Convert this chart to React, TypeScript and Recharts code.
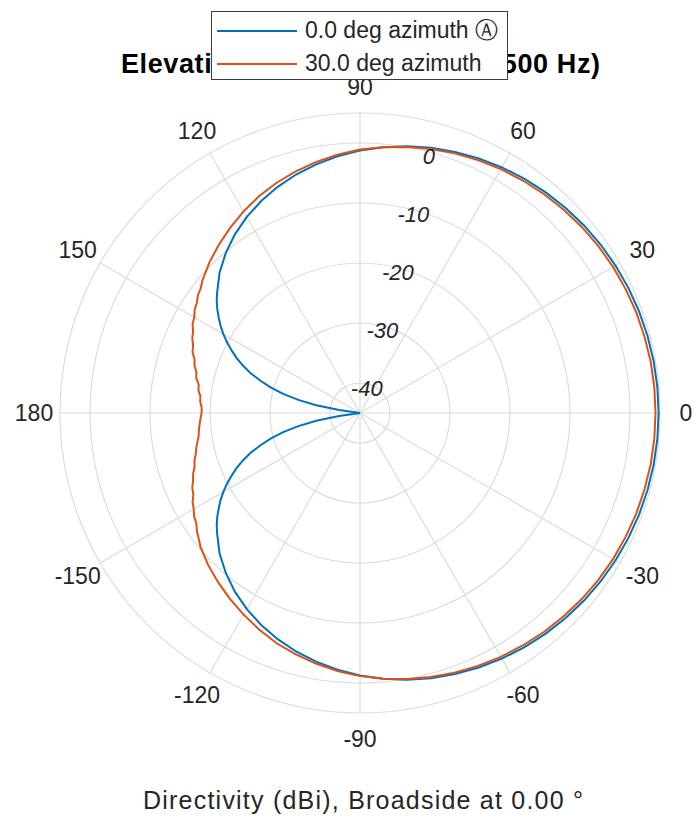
import { RadarChart, Radar, PolarGrid, PolarAngleAxis, PolarRadiusAxis, Legend } from 'recharts';

// elevation angle (deg) of each sample; denser near the back lobe where the curves bend hard
const ANGLES = [
  -180, -178, -176, -174, -172, -170, -168, -166, -164, -162, -160, -158, -156, -154, -152, -150, -148, -146, -144, -142, -140,
  -135, -130, -125, -120, -115, -110, -105, -100, -95, -90, -85, -80, -75, -70, -65, -60, -55, -50, -45, -40, -35, -30, -25, -20, -15, -10, -5,
  0, 5, 10, 15, 20, 25, 30, 35, 40, 45, 50, 55, 60, 65, 70, 75, 80, 85, 90, 95, 100, 105, 110, 115, 120, 125, 130, 135,
  140, 142, 144, 146, 148, 150, 152, 154, 156, 158, 160, 162, 164, 166, 168, 170, 172, 174, 176, 178,
];

// directivity (dBi), 0 deg azimuth cut (floored at the -45 dB plot limit)
const AZ0_DBI = [
  -45, -45, -45, -45, -41.5, -37.6, -34.5, -31.8, -29.5, -27.5, -25.6, -24.0, -22.5, -21.2, -19.9, -18.7, -17.6, -16.6, -15.6, -14.7, -13.9,
  -11.9, -10.2, -8.65, -7.27, -6.02, -4.89, -3.85, -2.91, -2.04, -1.25, -0.52, 0.14, 0.75, 1.3, 1.81, 2.27, 2.69, 3.06, 3.4, 3.69, 3.95, 4.17, 4.35, 4.5, 4.62, 4.7, 4.75,
  4.77, 4.75, 4.7, 4.62, 4.5, 4.35, 4.17, 3.95, 3.69, 3.4, 3.06, 2.69, 2.27, 1.81, 1.3, 0.75, 0.14, -0.52, -1.25, -2.04, -2.91, -3.85, -4.89, -6.02, -7.27, -8.65, -10.2, -11.9,
  -13.9, -14.7, -15.6, -16.6, -17.6, -18.7, -19.9, -21.2, -22.5, -24.0, -25.6, -27.5, -29.5, -31.8, -34.5, -37.6, -41.5, -45, -45, -45,
];

// directivity (dBi), 30 deg azimuth cut
const AZ30_DBI = [
  -18.6, -18.4, -18.2, -18.0, -17.85, -17.5, -17.1, -16.8, -16.3, -16.0, -15.4, -15.0, -14.4, -14.1, -13.4, -13.0, -12.4, -12.1, -11.4, -10.9, -10.3,
  -9.2, -8.2, -7.2, -6.2, -5.2, -4.2, -3.4, -2.6, -1.85, -1.15, -0.55, 0.0, 0.55, 1.05, 1.5, 1.95, 2.3, 2.65, 2.95, 3.25, 3.5, 3.7, 3.85, 4.0, 4.1, 4.2, 4.24,
  4.25, 4.24, 4.2, 4.1, 4.0, 3.85, 3.7, 3.5, 3.25, 2.95, 2.65, 2.3, 1.95, 1.5, 1.05, 0.55, 0.0, -0.55, -1.1, -1.8, -2.55, -3.35, -4.2, -5.15, -6.2, -7.3, -8.4, -9.5,
  -10.7, -11.3, -11.6, -12.2, -12.5, -13.1, -13.4, -14.05, -14.4, -15.0, -15.3, -16.0, -16.3, -16.9, -17.1, -17.7, -17.8, -18.25, -18.3, -18.6,
];

const ANGLE_TICKS = [0, 30, 60, 90, 120, 150, 180, -150, -120, -90, -60, -30];
const R_TICKS = [-40, -30, -20, -10, 0, 5];

const SERIES = [
  { key: 'az0', name: '0.0 deg azimuth \u24B6', color: '#0072BD' },
  { key: 'az30', name: '30.0 deg azimuth', color: '#D95319' },
];

const TITLE = 'Elevation Cut (frequency = 1500 Hz)';
const XLABEL = 'Directivity (dBi), Broadside at 0.00 \u00B0';

const FONT = '"Liberation Sans", Arial, Helvetica, sans-serif';
const INK = '#262626';

const data = ANGLES.map((a, i) => ({ angle: a, az0: AZ0_DBI[i], az30: AZ30_DBI[i] }));

function AngleTick(props: any) {
  const { x, y, payload } = props;
  return (
    <text x={x} y={y} textAnchor="middle" dominantBaseline="central" fontFamily={FONT} fontSize={23} fill={INK}>
      {payload.value}
    </text>
  );
}

function RadiusTick(props: any) {
  const { x, y, payload } = props;
  // outer ring (5 dB) carries no label
  if (payload.value === 5) return <g />;
  return (
    <text
      x={x - 1}
      y={y + 4}
      textAnchor="middle"
      dominantBaseline="central"
      fontFamily={FONT}
      fontSize={22}
      fontStyle="italic"
      fill={INK}
    >
      {payload.value}
    </text>
  );
}

function LegendBox(props: any) {
  const items = props.payload || [];
  return (
    <div
      style={{
        width: 297,
        height: 69,
        boxSizing: 'border-box',
        border: '1px solid #3a3a3a',
        background: '#fff',
        fontFamily: FONT,
        fontSize: 23,
        color: INK,
        paddingTop: 2,
      }}
    >
      {items.map((it: any) => (
        <div key={it.value} style={{ display: 'flex', alignItems: 'center', height: 33 }}>
          <span style={{ display: 'inline-block', width: 80, height: 2, background: it.color, marginLeft: 5, marginRight: 8 }} />
          <span style={{ whiteSpace: 'nowrap' }}>{it.value}</span>
        </div>
      ))}
    </div>
  );
}

export default function App() {
  return (
    <div style={{ position: 'absolute', left: 0, top: 0, width: 693, height: 821, background: '#fff' }}>
      <RadarChart
        width={693}
        height={821}
        data={data}
        cx={360}
        cy={413}
        innerRadius={0}
        outerRadius={300}
        startAngle={-180}
        endAngle={180}
        margin={{ top: 0, right: 0, bottom: 0, left: 0 }}
      >
        <text x={121} y={73} fontFamily={FONT} fontSize={27} fontWeight="bold" fill="#000" textLength={479} lengthAdjust="spacing">
          {TITLE}
        </text>
        <text x={143} y={809} fontFamily={FONT} fontSize={25} fill={INK} textLength={440} lengthAdjust="spacing">
          {XLABEL}
        </text>
        <PolarGrid gridType="circle" stroke="#dcdcdc" strokeWidth={1.2} />
        <PolarAngleAxis
          dataKey="angle"
          type="number"
          domain={[-180, 180]}
          ticks={ANGLE_TICKS}
          axisLine={false}
          tickLine={false}
          tickSize={26}
          tick={<AngleTick />}
        />
        <PolarRadiusAxis
          type="number"
          domain={[-45, 5]}
          ticks={R_TICKS}
          angle={75}
          axisLine={false}
          tickLine={false}
          tick={<RadiusTick />}
        />
        {SERIES.map((s) => (
          <Radar
            key={s.key}
            name={s.name}
            dataKey={s.key}
            stroke={s.color}
            strokeWidth={2}
            fill="none"
            fillOpacity={0}
            dot={false}
            isAnimationActive={false}
          />
        ))}
        <Legend
          layout="vertical"
          align="center"
          verticalAlign="middle"
          content={<LegendBox />}
          wrapperStyle={{ left: 211, top: 11, width: 297, height: 69 }}
        />
      </RadarChart>
    </div>
  );
}
